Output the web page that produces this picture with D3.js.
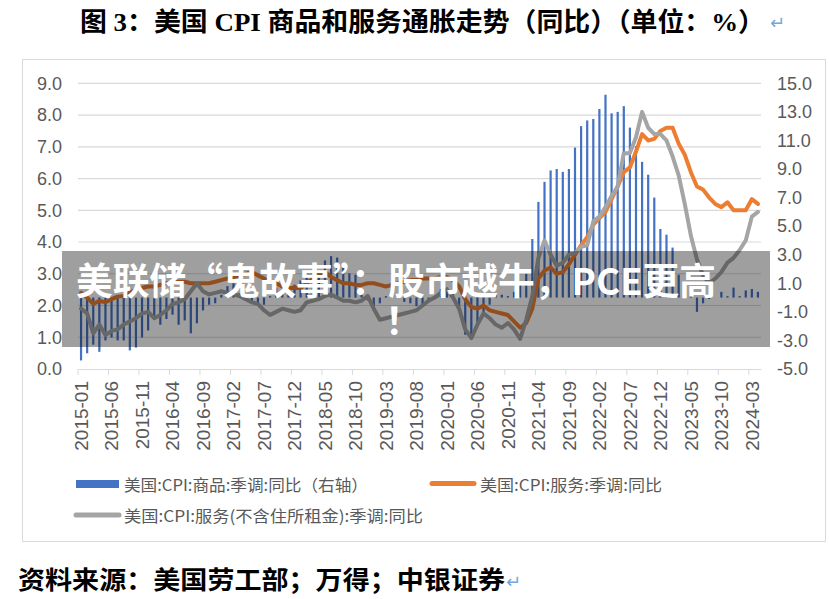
<!DOCTYPE html>
<html>
<head>
<meta charset="utf-8">
<script src="https://cdn.jsdelivr.net/npm/d3@7"></script>
<style>
  body { margin: 0; background: #fff; }
  svg { display: block; }
</style>
</head>
<body>
<div id="chart"></div>
<script>
// 美国CPI:商品:季调:同比 (右轴), 2015-01 .. 2024-04
const goods = [
  -4.4, -3.9, -3.3, -3.8, -3.0, -2.8, -3.0, -3.0, -3.7, -3.5, -2.8, -2.3,
  -1.5, -1.9, -1.5, -1.2, -1.9, -1.6, -2.5, -1.8, -0.9, -0.5, -0.4, 0.2,
  0.8, 1.0, 0.3, 0.2, -0.3, -0.5, -0.5, 0.1, 0.7, 0.5, 0.8, 0.9,
  1.2, 1.4, 1.3, 1.8, 2.6, 2.9, 2.8, 2.1, 1.7, 1.6, 0.6, -0.2,
  -0.6, -0.4, 0.1, 0.5, 0.1, -0.3, -0.4, -0.6, -0.5, -0.2, 0.1, 0.6,
  0.7, 0.3, -0.9, -2.6, -2.7, -2.0, -1.0, -0.5, 0.2, 0.2, 0.1, 0.4,
  1.0, 1.7, 4.1, 6.7, 8.1, 8.9, 9.0, 8.8, 9.0, 10.5, 12.0, 12.4,
  12.5, 13.2, 14.2, 12.9, 13.0, 13.4, 11.9, 10.6, 9.5, 8.6, 7.0, 4.8,
  4.4, 3.5, 1.6, 1.1, 0.3, -1.0, -0.4, -0.1, 0.0, 0.4, 0.1, 0.7,
  0.1, 0.5, 0.6, 0.4
];
// 美国CPI:服务:季调:同比
const services = [
  2.4, 2.25, 2.05, 2.15, 2.1, 2.2, 2.28, 2.3, 2.4, 2.5, 2.55, 2.6,
  2.6, 2.65, 2.7, 2.7, 2.75, 2.75, 2.7, 2.7, 2.7, 2.7, 2.75, 2.8,
  2.85, 2.9, 2.95, 3.0, 3.05, 2.95, 2.85, 2.75, 2.7, 2.6, 2.55, 2.55,
  2.55, 2.7, 2.85, 3.0, 3.05, 2.9, 2.8, 2.7, 2.7, 2.65, 2.65, 2.7,
  2.7, 2.65, 2.6, 2.65, 2.7, 2.75, 2.8, 2.8, 2.85, 2.85, 2.85, 2.9,
  2.9, 2.8, 2.6, 2.2, 1.95, 1.9, 2.0, 1.85, 1.8, 1.75, 1.7, 1.5,
  1.3, 1.45, 1.9, 2.85, 3.1, 3.2, 3.0, 3.05, 3.3, 3.6, 3.9, 4.15,
  4.55, 4.75, 4.95, 5.35, 5.75, 6.2, 6.35, 6.85, 7.4, 7.2, 7.25, 7.5,
  7.6, 7.6, 7.1, 6.75, 6.2, 5.75, 5.65, 5.4, 5.2, 5.1, 5.25, 5.0,
  5.0, 5.0, 5.35, 5.2
];
// 美国CPI:服务(不含住所租金):季调:同比
const servicesExRent = [
  1.9, 1.75, 1.12, 1.4, 1.07, 1.2, 1.25, 1.4, 1.5, 1.6, 1.75, 1.8,
  1.6, 1.7, 1.85, 2.05, 2.1, 2.2, 2.45, 2.7, 2.45, 2.35, 2.4, 2.45,
  2.4, 2.35, 2.3, 2.2, 2.1, 2.05, 1.85, 1.7, 1.8, 1.9, 1.85, 1.8,
  1.85, 2.1, 2.15, 2.2, 2.3, 2.35, 2.25, 2.15, 2.15, 2.1, 2.15, 2.3,
  1.9, 1.55, 1.6, 1.65, 1.7, 1.75, 1.8, 1.85, 2.0, 2.15, 2.25, 2.4,
  2.5, 2.25, 1.9, 1.25, 0.97, 1.4, 1.75, 1.6, 1.4, 1.3, 1.45, 1.25,
  0.95, 1.55, 2.3, 3.5, 4.05, 3.6, 3.25, 3.35, 3.6, 3.65, 3.85, 3.9,
  4.65, 4.8, 5.1, 5.45, 5.75, 6.8, 6.8, 7.3, 8.1, 7.6, 7.4, 7.4,
  7.2, 6.7, 6.1, 5.2, 4.2, 3.45, 2.95, 2.7, 2.85, 3.05, 3.35, 3.5,
  3.75, 4.05, 4.8, 4.95
];

const leftTicks = [0, 1, 2, 3, 4, 5, 6, 7, 8, 9];
const rightTicks = [-5, -3, -1, 1, 3, 5, 7, 9, 11, 13, 15];
const legendLabels = [
  "美国:CPI:商品:季调:同比（右轴）",
  "美国:CPI:服务:季调:同比",
  "美国:CPI:服务(不含住所租金):季调:同比"
];
const titleText = "图 3：美国 CPI 商品和服务通胀走势（同比）（单位：%）";
const sourceText = "资料来源：美国劳工部；万得；中银证券";
const bannerLines = ["美联储“鬼故事”：股市越牛，PCE更高", "！"];

const fmtMonth = d3.timeFormat("%Y-%m");
const months = d3.timeMonths(new Date(2015, 0, 1), new Date(2015, goods.length, 1)).map(fmtMonth);
const tickMonths = months.filter((m, i) => i % 5 === 0);

const W = 829, H = 599;
const svg = d3.select("#chart").append("svg")
  .attr("width", W)
  .attr("height", H);

const axisFont = "'Liberation Sans', Arial, sans-serif";
const cjkFont = "'Noto Sans CJK SC', sans-serif";

// chart frame
svg.append("rect")
  .attr("x", 22.5).attr("y", 59.5)
  .attr("width", 803).attr("height", 482)
  .attr("fill", "none")
  .attr("stroke", "#d9d9d9");

const x = d3.scaleBand().domain(months).range([78, 761]);
const bw = x.bandwidth();
const cx = m => x(m) + bw / 2;
const yL = d3.scaleLinear().domain([0, 9]).range([369, 83.3]);
const yR = d3.scaleLinear().domain([-5, 15]).range([369, 83.3]);

// gridlines
svg.append("g")
  .selectAll("line")
  .data(leftTicks.slice(1))
  .enter()
  .append("line")
  .attr("x1", 78).attr("x2", 761)
  .attr("y1", d => yL(d)).attr("y2", d => yL(d))
  .attr("stroke", "#d9d9d9")
  .attr("stroke-width", 1.2);

// left axis
const gl = svg.append("g")
  .attr("transform", "translate(78,0)")
  .call(d3.axisLeft(yL).tickValues(leftTicks).tickFormat(d => d.toFixed(1)).tickSize(0).tickPadding(16));
gl.select(".domain").remove();
gl.selectAll("text").style("font-family", axisFont).style("font-size", "18px").attr("fill", "#595959");

// right axis
const gr = svg.append("g")
  .attr("transform", "translate(761,0)")
  .call(d3.axisRight(yR).tickValues(rightTicks).tickFormat(d => d.toFixed(1)).tickSize(0).tickPadding(16));
gr.select(".domain").remove();
gr.selectAll("text").style("font-family", axisFont).style("font-size", "18px").attr("fill", "#595959");

// bottom axis
const gb = svg.append("g")
  .attr("transform", "translate(0,369)")
  .call(d3.axisBottom(x).tickValues(tickMonths).tickSize(6).tickSizeOuter(0));
gb.select(".domain").attr("stroke", "#d9d9d9").attr("stroke-width", 1.2);
gb.selectAll(".tick line")
  .attr("stroke", "#d9d9d9")
  .attr("x1", -bw / 2).attr("x2", -bw / 2);
gb.selectAll(".tick text")
  .attr("transform", "rotate(-90)")
  .attr("text-anchor", "end")
  .attr("x", -12)
  .attr("y", 0)
  .attr("dy", "0.35em")
  .style("font-family", axisFont)
  .style("font-size", "19px")
  .attr("fill", "#595959");

// goods bars (right axis)
svg.append("g")
  .selectAll("rect")
  .data(goods)
  .enter()
  .append("rect")
  .attr("x", (d, i) => cx(months[i]) - 1.1)
  .attr("width", 2.2)
  .attr("y", d => Math.min(yR(d), yR(0)))
  .attr("height", d => Math.abs(yR(d) - yR(0)))
  .attr("fill", "#4472C4");

// lines (left axis)
const line = d3.line()
  .x((d, i) => cx(months[i]))
  .y(d => yL(d));

svg.append("path")
  .datum(services)
  .attr("d", line)
  .attr("fill", "none")
  .attr("stroke", "#ED7D31")
  .attr("stroke-width", 4)
  .attr("stroke-linejoin", "round")
  .attr("stroke-linecap", "round");

svg.append("path")
  .datum(servicesExRent)
  .attr("d", line)
  .attr("fill", "none")
  .attr("stroke", "#A5A5A5")
  .attr("stroke-width", 4)
  .attr("stroke-linejoin", "round")
  .attr("stroke-linecap", "round");

// legend
const lg = svg.append("g");
lg.append("rect")
  .attr("x", 76).attr("y", 480).attr("width", 43).attr("height", 8)
  .attr("fill", "#4472C4");
lg.append("line")
  .attr("x1", 432).attr("x2", 474).attr("y1", 483.5).attr("y2", 483.5)
  .attr("stroke", "#ED7D31").attr("stroke-width", 5).attr("stroke-linecap", "round");
lg.append("line")
  .attr("x1", 76).attr("x2", 119).attr("y1", 515).attr("y2", 515)
  .attr("stroke", "#A5A5A5").attr("stroke-width", 5).attr("stroke-linecap", "round");
const legendPos = [[124, 491, 244], [480, 491, 182], [124, 522, 299]];
lg.selectAll("text")
  .data(legendLabels)
  .enter()
  .append("text")
  .attr("x", (d, i) => legendPos[i][0])
  .attr("y", (d, i) => legendPos[i][1])
  .attr("textLength", (d, i) => legendPos[i][2])
  .attr("lengthAdjust", "spacingAndGlyphs")
  .style("font-family", cjkFont)
  .style("font-size", "16px")
  .attr("fill", "#595959")
  .text(d => d);

// title
svg.append("text")
  .attr("x", 80).attr("y", 31)
  .attr("textLength", 685)
  .attr("lengthAdjust", "spacingAndGlyphs")
  .style("font-family", "'Liberation Serif', 'Noto Sans CJK SC', serif")
  .style("font-size", "26px")
  .style("font-weight", "bold")
  .attr("fill", "#000")
  .text(titleText);
svg.append("text")
  .attr("x", 770).attr("y", 29)
  .style("font-family", "'DejaVu Sans', sans-serif")
  .style("font-size", "18px")
  .attr("fill", "#6fa8dc")
  .text("↵");

// source
svg.append("text")
  .attr("x", 18).attr("y", 589)
  .attr("textLength", 487)
  .attr("lengthAdjust", "spacingAndGlyphs")
  .style("font-family", "'Liberation Serif', 'Noto Sans CJK SC', serif")
  .style("font-size", "25px")
  .style("font-weight", "bold")
  .attr("fill", "#000")
  .text(sourceText);
svg.append("text")
  .attr("x", 506).attr("y", 588)
  .style("font-family", "'DejaVu Sans', sans-serif")
  .style("font-size", "18px")
  .attr("fill", "#6fa8dc")
  .text("↵");

// overlay banner
svg.append("rect")
  .attr("x", 62).attr("y", 251)
  .attr("width", 708).attr("height", 96)
  .attr("fill", "#000")
  .attr("opacity", 0.375);
const bt = svg.append("text")
  .style("font-family", cjkFont)
  .style("font-size", "37px")
  .style("font-weight", "bold")
  .attr("fill", "#fff");
bt.append("tspan")
  .attr("x", 76).attr("y", 295)
  .attr("textLength", 640)
  .attr("lengthAdjust", "spacingAndGlyphs")
  .text(bannerLines[0]);
bt.append("tspan")
  .attr("x", 385).attr("y", 335)
  .text(bannerLines[1]);
</script>
</body>
</html>
